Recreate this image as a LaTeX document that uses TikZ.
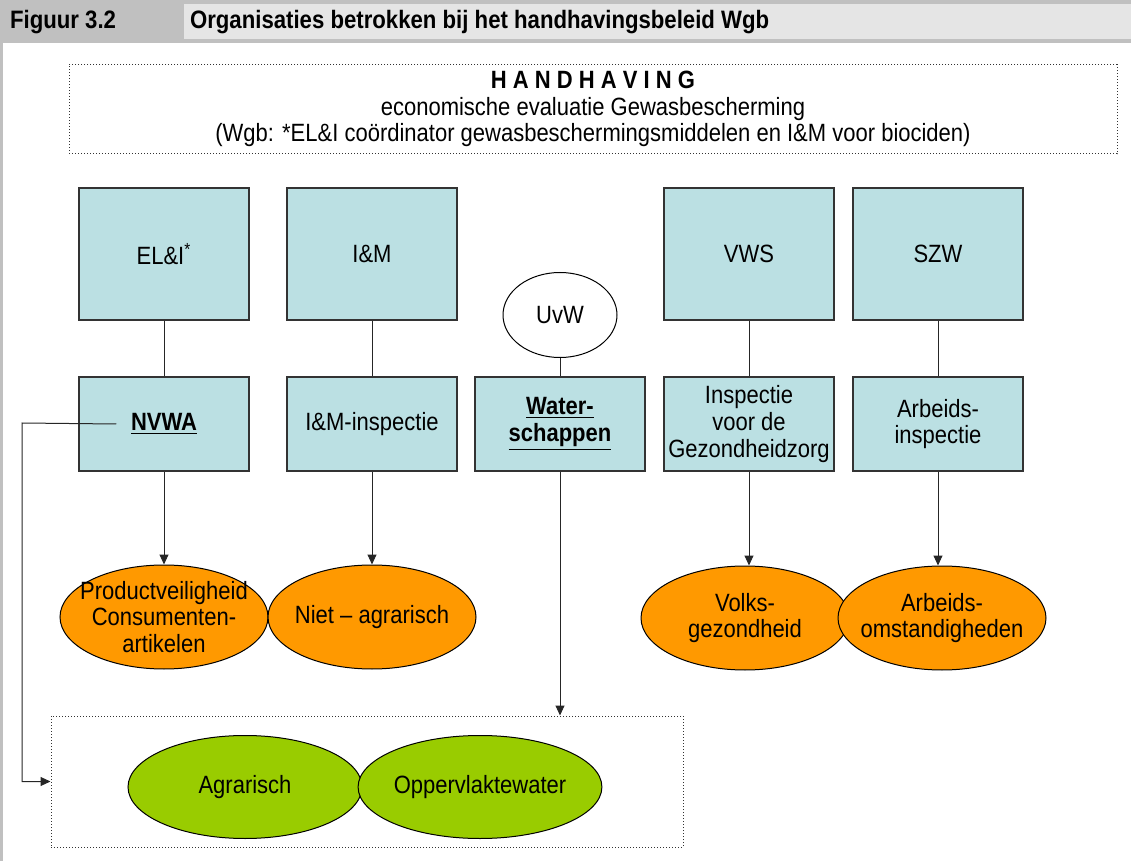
\documentclass[tikz,border=0pt]{standalone}
\usepackage{fontspec}
\setmainfont{Liberation Sans}[FakeStretch=0.88]
\usetikzlibrary{arrows.meta,shapes.geometric}
\definecolor{orgblauw}{RGB}{187,224,227}
\definecolor{oranje}{RGB}{255,153,0}
\definecolor{groen}{RGB}{153,204,0}
\definecolor{kopgrijs}{RGB}{192,192,192}
\definecolor{koplicht}{RGB}{229,229,229}
\begin{document}
\begin{tikzpicture}[x=0.5pt,y=-0.5pt,font=\fontsize{12.5}{13.3}\selectfont,
	org/.style={draw=black!80,line width=0.75pt,fill=orgblauw,minimum width=85pt,align=center,inner sep=1pt},
	doel/.style={ellipse,draw=black,line width=0.5pt,fill=oranje,minimum width=104pt,minimum height=52pt,align=center,inner sep=-12pt},
	veldje/.style={ellipse,draw=black,line width=0.5pt,fill=groen,minimum height=51.5pt,inner sep=0pt},
	kader/.style={draw=black!80,densely dotted,line width=0.5pt},
	lijn/.style={draw=black!85,line width=0.5pt},
	pijl/.style={lijn,-{Triangle[length=5pt,width=4.5pt]}}]
	\useasboundingbox (0,0) rectangle (1131,861);
	% kopregel
	\fill[kopgrijs] (0,0) rectangle (1131,43);
	\fill[koplicht] (184,4) rectangle (1131,39);
	\fill[kopgrijs] (0,43) rectangle (3,861);
	\node[anchor=west,font=\fontsize{12.6}{14}\selectfont\bfseries] (fig) at (3,22) {Figuur 3.2};
	\node[anchor=west,font=\fontsize{12.6}{14}\selectfont\bfseries] (titel) at (183,22) {Organisaties betrokken bij het handhavingsbeleid Wgb};
	\node[kader,minimum width=524pt,minimum height=42.5pt,align=center] (kop) at (593,109)
		{\textbf{H A N D H A V I N G}\\economische evaluatie Gewasbescherming\\(Wgb: *EL\&I coördinator gewasbeschermingsmiddelen en I\&M voor biociden)};
	% ministeries en inspecties
	\foreach \x/\naam/\tekst in {164/elli/{EL\&I\textsuperscript{*}},372/ienm/{I\&M},749/vws/VWS,938/szw/SZW}
		\node[org,minimum height=66pt] (\naam) at (\x,254) {\tekst};
	\node[org,minimum height=47pt] (nvwa) at (164,424) {\textbf{\underline{NVWA}}};
	\node[org,minimum height=47pt] (ilt) at (372,424) {I\&M-inspectie};
	\node[org,minimum height=47pt] (water) at (560,424) {\textbf{\underline{Water-}}\\\textbf{\underline{schappen}}};
	\node[org,minimum height=47pt] (igz) at (749,424) {Inspectie\\voor de\\Gezondheidzorg};
	\node[org,minimum height=47pt] (ai) at (938,424) {Arbeids-\\inspectie};
	\node[ellipse,draw=black,line width=0.5pt,minimum width=57pt,minimum height=42.5pt] (uvw) at (560,315) {UvW};
	\foreach \a/\b in {elli/nvwa,ienm/ilt,vws/igz,szw/ai,uvw/water}
		\draw[lijn] (\a) -- (\b);
	% terreinen
	\node[doel] (prod) at (164,617) {Productveiligheid\\Consumenten-\\artikelen};
	\node[doel] (niet) at (372,617) {Niet -- agrarisch};
	\node[doel] (volks) at (745,618) {Volks-\\gezondheid};
	\node[doel] (arbo) at (942,618) {Arbeids-\\omstandigheden};
	\node[kader,minimum width=316pt,minimum height=65.5pt] (veld) at (367,781.5) {};
	\node[veldje,minimum width=117pt] (agr) at (245,787) {Agrarisch};
	\node[veldje,minimum width=118pt] (opp) at (480,787) {Oppervlaktewater};
	\foreach \a/\b in {nvwa/prod,ilt/niet,igz/volks,ai/arbo,water/veld}
		\draw[pijl] (\a.south) -- (\a.south |- \b.north);
	\coordinate (bocht) at (22,423);
	\draw[pijl] (nvwa.west) ++(38,0) -- (bocht) |- (veld.west);
\end{tikzpicture}
\end{document}
